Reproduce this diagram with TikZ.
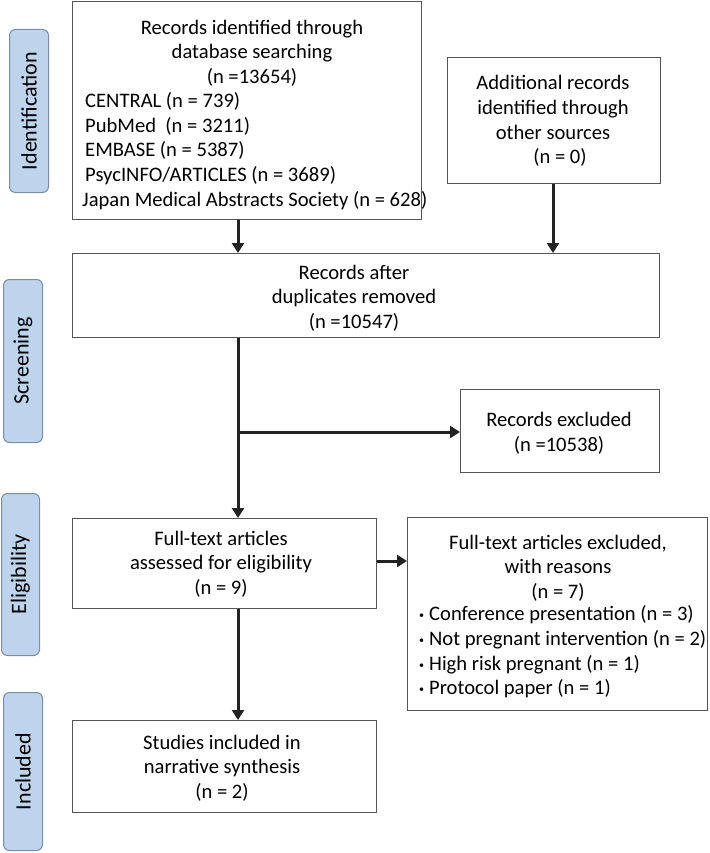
\documentclass[tikz,border=0pt]{standalone}
\usepackage{fontspec}
\setmainfont{Carlito}
\usetikzlibrary{arrows.meta,positioning,calc}
\definecolor{lblfill}{RGB}{189,212,236}
\definecolor{lbldraw}{RGB}{125,140,160}
\definecolor{boxdraw}{RGB}{85,85,85}
\definecolor{arrcol}{RGB}{34,34,34}
\newcommand{\smallbul}{\raisebox{2pt}{\fontsize{10}{10}\selectfont\textbullet}\hspace{5pt}}
\begin{document}
\begin{tikzpicture}[x=1pt,y=1pt,
  box/.style={draw=boxdraw, line width=1.3pt, fill=white, anchor=north west, inner sep=0pt},
  lbl/.style={draw=lbldraw, line width=1pt, fill=lblfill, rounded corners=6pt, anchor=north west, inner sep=0pt},
  lbltext/.style={rotate=90, font=\fontsize{22}{24}\selectfont},
  txt/.style={align=center, font=\fontsize{20.6}{24.7}\selectfont, inner sep=0pt},
  ltxt/.style={align=left, font=\fontsize{20.6}{24.7}\selectfont, inner sep=0pt, anchor=west},
  arr/.style={draw=arrcol, line width=3pt, -{Triangle[length=10pt,width=12pt]}}
]
\useasboundingbox (0,0) rectangle (709,-853);

% stage labels
\node[lbl, minimum width=39pt, minimum height=163pt] (lid) at (9,-29) {};
\node[lbltext] (lidt) at (lid.center) {Identification};
\node[lbl, minimum width=39pt, minimum height=163pt] (lsc) at (3,-279) {};
\node[lbltext] (lsct) at (lsc.center) {Screening};
\node[lbl, minimum width=38pt, minimum height=162pt] (lel) at (1,-493) {};
\node[lbltext] (lelt) at (lel.center) {Eligibility};
\node[lbl, minimum width=39pt, minimum height=158pt] (lin) at (3,-692) {};
\node[lbltext] (lint) at (lin.center) {Included};

% boxes
\node[box, minimum width=349pt, minimum height=218pt] (b1) at (72,-1) {};
\node[txt] (b1t) at (252,-53) {Records identified through\\database searching\\(n =13654)};
\node[ltxt] (b1l) at (85,-151) {CENTRAL (n = 739)\\PubMed\ \ (n = 3211)\\EMBASE (n = 5387)\\PsycINFO/ARTICLES (n = 3689)\\\hspace*{-3pt}Japan Medical Abstracts Society (n = 628)};

\node[box, minimum width=213pt, minimum height=126pt] (ba) at (447,-57) {};
\node[txt] (bat) at (553,-121) {Additional records\\identified through\\other sources\\\hspace*{14pt}(n = 0)};

\node[box, minimum width=587pt, minimum height=84pt] (b2) at (72,-253) {};
\node[txt] (b2t) at (354,-298) {Records after\\duplicates removed\\(n =10547)};

\node[box, minimum width=199pt, minimum height=83pt] (bx1) at (460,-389) {};
\node[txt] (bx1t) at (559,-433) {Records excluded\\(n =10538)};

\node[box, minimum width=304pt, minimum height=90pt] (b3) at (72,-518) {};
\node[txt] (b3t) at (221,-564) {Full-text articles\\assessed for eligibility\\(n = 9)};

\node[box, minimum width=300pt, minimum height=193pt] (bx2) at (407,-517) {};
\node[txt] (bx2t) at (558,-568) {Full-text articles excluded,\\with reasons\\(n = 7)};
\node[ltxt] (bx2l) at (419,-652) {\smallbul Conference presentation (n = 3)\\\smallbul Not pregnant intervention (n = 2)\\\smallbul High risk pregnant (n = 1)\\\smallbul Protocol paper (n = 1)};

\node[box, minimum width=304pt, minimum height=92pt] (b4) at (72,-720) {};
\node[txt] (b4t) at (222,-768) {Studies included in\\narrative synthesis\\(n = 2)};

% connectors
\coordinate (spine) at (238,0);
\coordinate (aspine) at (553,0);
\coordinate (hbr) at (0,-432);
\coordinate (hbr2) at (0,-561);
\draw[arr] (b1.south -| spine) -- (b2.north -| spine);
\draw[arr] (ba.south -| aspine) -- (b2.north -| aspine);
\draw[arr] (b2.south -| spine) -- (b3.north -| spine);
\draw[arr] (spine |- hbr) -- (bx1.west |- hbr);
\draw[arr] (b3.east |- hbr2) -- (bx2.west |- hbr2);
\draw[arr] (b3.south -| spine) -- (b4.north -| spine);
\end{tikzpicture}
\end{document}
